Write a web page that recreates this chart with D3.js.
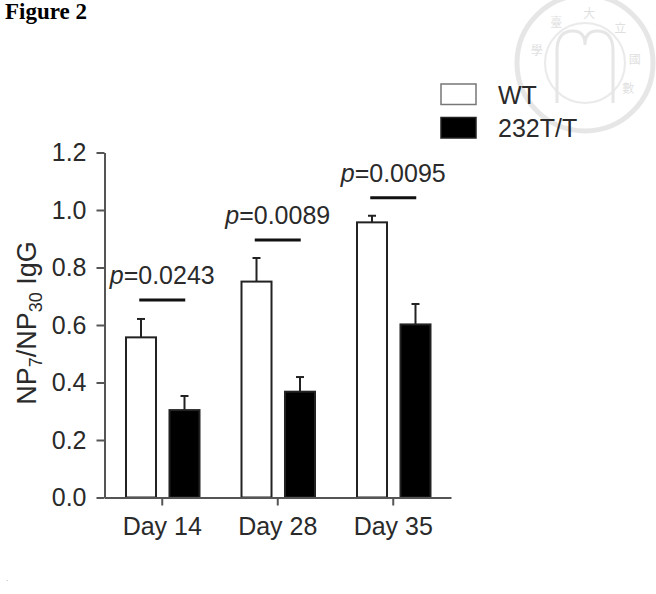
<!DOCTYPE html>
<html>
<head>
<meta charset="utf-8">
<script src="https://cdn.jsdelivr.net/npm/d3@7"></script>
<style>
  body { margin: 0; background: #fff; }
  svg { display: block; }
  text { font-family: "Liberation Sans", Arial, sans-serif; fill: #2a2a2a; }
</style>
</head>
<body>
<div class="chart"></div>
<script>
var days = ["Day 14", "Day 28", "Day 35"];
var groups = ["WT", "232T/T"];
var wtMean = [0.557, 0.751, 0.957];
var wtErr = [0.064, 0.082, 0.023];
var mutMean = [0.304, 0.368, 0.602];
var mutErr = [0.049, 0.051, 0.071];
var pLabels = ["0.0243", "0.0089", "0.0095"];
var pLineAt = [0.687, 0.896, 1.043];
var yTicks = [0, 0.2, 0.4, 0.6, 0.8, 1.0, 1.2];

var width = 656, height = 594;
var fs = 25;

var svg = d3.select(".chart").append("svg")
  .attr("width", width)
  .attr("height", height);

// faint seal watermark, top right
var seal = svg.append("g").attr("transform", "translate(585,63)")
  .attr("opacity", 0.2);
seal.append("circle").attr("r", 68).attr("fill", "none").attr("stroke", "#888").attr("stroke-width", 5);
seal.append("circle").attr("r", 40).attr("fill", "none").attr("stroke", "#999").attr("stroke-width", 2);
seal.append("path")
  .attr("d", "M-28,40 L-28,-12 Q-28,-32 -12,-32 Q0,-32 0,-18 Q0,-32 12,-32 Q28,-32 28,-12 L28,40")
  .attr("fill", "none").attr("stroke", "#888").attr("stroke-width", 3);
var sealChars = ["學", "臺", "大", "立", "國", "數"];
var sealAng = [-165, -125, -85, -45, -5, 30];
sealChars.forEach(function(c, i) {
  var a = sealAng[i] * Math.PI / 180;
  seal.append("text")
    .attr("x", 50 * Math.cos(a)).attr("y", 50 * Math.sin(a) + 5)
    .attr("text-anchor", "middle")
    .style("font-family", "Noto Sans CJK TC")
    .style("font-size", "12px")
    .style("fill", "#666")
    .text(c);
});

svg.append("text")
  .attr("x", 5).attr("y", 19)
  .style("font-family", "'Liberation Serif', 'Times New Roman', serif")
  .style("font-weight", "bold")
  .style("font-size", "23px")
  .style("fill", "#000")
  .text("Figure 2");

var y = d3.scaleLinear().domain([0, 1.2]).range([497.5, 152.5]);

var x0 = d3.scaleBand().domain(days).range([104.5, 451]).padding(0);

var x1 = d3.scaleBand().domain(groups).range([21.5, 95])
  .paddingInner(0.31).paddingOuter(0);

var data = days.map(function(d, i) {
  return {
    day: d,
    p: pLabels[i],
    line: pLineAt[i],
    bars: [
      { g: "WT", v: wtMean[i], e: wtErr[i] },
      { g: "232T/T", v: mutMean[i], e: mutErr[i] }
    ]
  };
});

var grp = svg.append("g").selectAll("g")
  .data(data)
  .enter().append("g")
    .attr("transform", function(d) { return "translate(" + x0(d.day) + ",0)"; });

var bar = grp.selectAll("g.bar")
  .data(function(d) { return d.bars; })
  .enter().append("g").attr("class", "bar");

// error bars (upper only)
bar.append("line")
  .attr("x1", function(d) { return x1(d.g) + x1.bandwidth() / 2; })
  .attr("x2", function(d) { return x1(d.g) + x1.bandwidth() / 2; })
  .attr("y1", function(d) { return y(d.v); })
  .attr("y2", function(d) { return y(d.v + d.e); })
  .attr("stroke", "#222").attr("stroke-width", 2);

bar.append("line")
  .attr("x1", function(d) { return x1(d.g) + x1.bandwidth() / 2 - 4; })
  .attr("x2", function(d) { return x1(d.g) + x1.bandwidth() / 2 + 4; })
  .attr("y1", function(d) { return y(d.v + d.e); })
  .attr("y2", function(d) { return y(d.v + d.e); })
  .attr("stroke", "#222").attr("stroke-width", 2);

bar.append("rect")
  .attr("x", function(d) { return x1(d.g); })
  .attr("y", function(d) { return y(d.v); })
  .attr("width", x1.bandwidth())
  .attr("height", function(d) { return y(0) - y(d.v); })
  .attr("fill", function(d) { return d.g == "WT" ? "#fff" : "#000"; })
  .attr("stroke", "#222")
  .attr("stroke-width", 2);

// significance lines and p values
grp.append("line")
  .attr("x1", x0.bandwidth() / 2 - 23)
  .attr("x2", x0.bandwidth() / 2 + 23)
  .attr("y1", function(d) { return y(d.line); })
  .attr("y2", function(d) { return y(d.line); })
  .attr("stroke", "#111").attr("stroke-width", 3);

var pt = grp.append("text")
  .attr("x", x0.bandwidth() / 2)
  .attr("y", function(d) { return y(d.line) - 16; })
  .attr("text-anchor", "middle")
  .style("font-size", fs + "px");
pt.append("tspan").style("font-style", "italic").text("p");
pt.append("tspan").text(function(d) { return "=" + d.p; });

// axes
var yAxis = svg.append("g")
  .attr("transform", "translate(104.5,0)")
  .call(d3.axisLeft(y).tickValues(yTicks).tickFormat(d3.format(".1f"))
    .tickSize(8).tickPadding(10).tickSizeOuter(0));

var xAxis = svg.append("g")
  .attr("transform", "translate(0,497.5)")
  .call(d3.axisBottom(x0).tickSize(8).tickPadding(12).tickSizeOuter(0));

[yAxis, xAxis].forEach(function(a) {
  a.select(".domain").attr("stroke", "#555").attr("stroke-width", 2);
  a.selectAll(".tick line").attr("stroke", "#555").attr("stroke-width", 2);
  a.selectAll(".tick text")
    .style("font-size", fs + "px")
    .style("font-family", "'Liberation Sans', Arial, sans-serif")
    .attr("fill", "#2a2a2a");
});

// y label with subscripts
var yl = svg.append("text")
  .attr("transform", "translate(36,323) rotate(-90)")
  .attr("text-anchor", "middle")
  .style("font-size", "27px");
yl.append("tspan").text("NP");
yl.append("tspan").attr("dy", 6).style("font-size", "18px").text("7");
yl.append("tspan").attr("dy", -6).text("/NP");
yl.append("tspan").attr("dy", 6).style("font-size", "18px").text("30");
yl.append("tspan").attr("dy", -6).text(" IgG");

// legend
var legend = svg.append("g").selectAll("g")
  .data(groups)
  .enter().append("g")
    .attr("transform", function(d, i) { return "translate(441," + (84 + i * 33.5) + ")"; });

legend.append("rect")
  .attr("width", 35).attr("height", 20.5)
  .attr("fill", function(d) { return d == "WT" ? "#fff" : "#000"; })
  .attr("stroke", function(d) { return d == "WT" ? "#777" : "#222"; })
  .attr("stroke-width", 1.5);

legend.append("text")
  .attr("x", 57).attr("y", 19.5)
  .style("font-size", fs + "px")
  .text(function(d) { return d; });

svg.append("text")
  .attr("x", 6).attr("y", 581)
  .style("font-size", "8px").style("fill", "#999")
  .text(".");
</script>
</body>
</html>
